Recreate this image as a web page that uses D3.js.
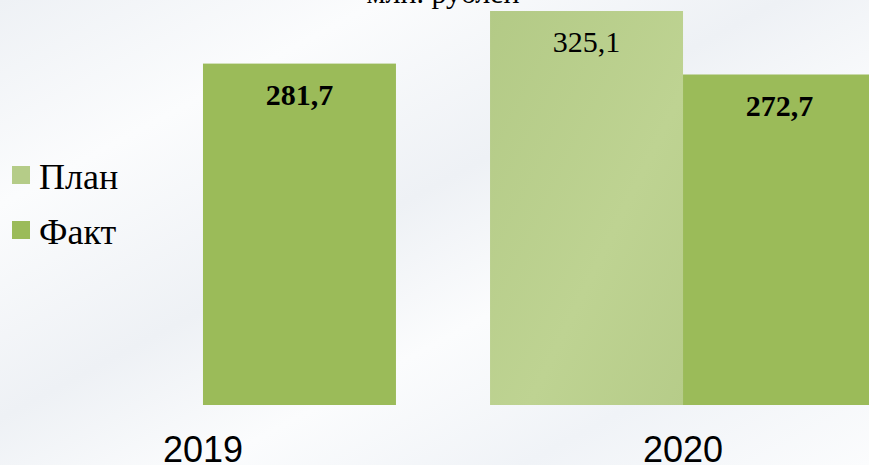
<!DOCTYPE html>
<html>
<head>
<meta charset="utf-8">
<script src="https://cdn.jsdelivr.net/npm/d3@7"></script>
<style>
	html, body { margin: 0; padding: 0; }
	body { width: 869px; height: 465px; overflow: hidden; }
</style>
</head>
<body>
<div id="chart"></div>
<script>
'use strict';

// values, млн. рублей
const years = ["2019", "2020"];
const series = ["План", "Факт"];
const plan = [null, 325.1];
const fact = [281.7, 272.7];
const title = "млн. рублей";

const width = 869;
const height = 465;
const colors = { "План": "url(#plan_grad)", "Факт": "#9bbb59" };
const legend_colors = { "План": "#b5cc88", "Факт": "#9bbb59" };

function fmt(v)
{
	return v.toFixed(1).replace(".", ",");
}

window.onload = function()
{
	const svg = d3.select("#chart")
		.append("svg")
			.attr("width", width)
			.attr("height", height);

	const defs = svg.append("defs");

	// light slide background with soft grey-blue streaks
	const bg = defs.append("linearGradient")
		.attr("id", "bg_grad")
		.attr("x1", "0").attr("y1", "0")
		.attr("x2", "1").attr("y2", "1");
	[["0%", "#eef1f5"], ["22%", "#fbfcfd"], ["45%", "#eef1f5"], ["62%", "#fbfcfd"], ["80%", "#f0f3f7"], ["100%", "#fbfcfd"]]
		.forEach(s => bg.append("stop").attr("offset", s[0]).attr("stop-color", s[1]));

	const pg = defs.append("linearGradient")
		.attr("id", "plan_grad")
		.attr("x1", "0").attr("y1", "0")
		.attr("x2", "1").attr("y2", "1");
	pg.append("stop").attr("offset", "0%").attr("stop-color", "#b3ca86");
	pg.append("stop").attr("offset", "60%").attr("stop-color", "#bed392");
	pg.append("stop").attr("offset", "100%").attr("stop-color", "#b6cc89");

	svg.append("rect")
		.attr("width", width)
		.attr("height", height)
		.attr("fill", "url(#bg_grad)");

	const x = d3.scaleBand()
		.domain(years)
		.range([10, 876])
		.paddingInner(0.196)
		.paddingOuter(0);

	const x1 = d3.scaleBand()
		.domain(series)
		.range([0, x.bandwidth()]);

	const y = d3.scaleLinear()
		.domain([0, 325.1])
		.range([405, 11]);

	const rows = [];
	years.forEach((yr, i) => {
		if (plan[i] != null) rows.push({ year: yr, key: "План", value: plan[i] });
		if (fact[i] != null) rows.push({ year: yr, key: "Факт", value: fact[i] });
	});

	const bars = svg.append("g").attr("class", "bars");

	bars.selectAll("rect")
		.data(rows)
		.join("rect")
			.attr("x", d => x(d.year) + x1(d.key))
			.attr("y", d => y(d.value))
			.attr("width", x1.bandwidth())
			.attr("height", d => y(0) - y(d.value))
			.attr("fill", d => colors[d.key]);

	bars.selectAll("text")
		.data(rows)
		.join("text")
			.attr("x", d => x(d.year) + x1(d.key) + x1.bandwidth() / 2)
			.attr("y", d => y(d.value) + 41)
			.attr("text-anchor", "middle")
			.attr("font-family", "Liberation Serif, serif")
			.attr("font-size", 30)
			.attr("font-weight", d => d.key == "Факт" ? "bold" : "normal")
			.attr("fill", "#000")
			.text(d => fmt(d.value));

	// x axis: labels only
	const xAxis = g => g
		.attr("transform", `translate(0,${y(0)})`)
		.call(d3.axisBottom(x).tickSize(0).tickPadding(31))
		.call(g => g.select(".domain").remove())
		.call(g => g.selectAll("text")
			.attr("font-family", "Liberation Sans, Arial, sans-serif")
			.attr("font-size", 36)
			.attr("fill", "#000"));

	svg.append("g")
		.attr("class", "x-axis")
		.call(xAxis);

	// legend
	const legend = svg.append("g").attr("class", "legend");
	const item = legend.selectAll("g")
		.data(series)
		.join("g")
			.attr("transform", (d, i) => `translate(12,${166 + i * 55})`);

	item.append("rect")
		.attr("width", 18)
		.attr("height", 18)
		.attr("fill", d => legend_colors[d]);

	item.append("text")
		.attr("x", 27)
		.attr("y", 23)
		.attr("font-family", "Liberation Serif, serif")
		.attr("font-size", 36)
		.attr("fill", "#000")
		.text(d => d);

	// title, cut off by the top edge as in the original
	svg.append("text")
		.attr("x", 443)
		.attr("y", 3)
		.attr("text-anchor", "middle")
		.attr("font-family", "Liberation Serif, serif")
		.attr("font-size", 30)
		.attr("fill", "#000")
		.text(title);
}
</script>
</body>
</html>
